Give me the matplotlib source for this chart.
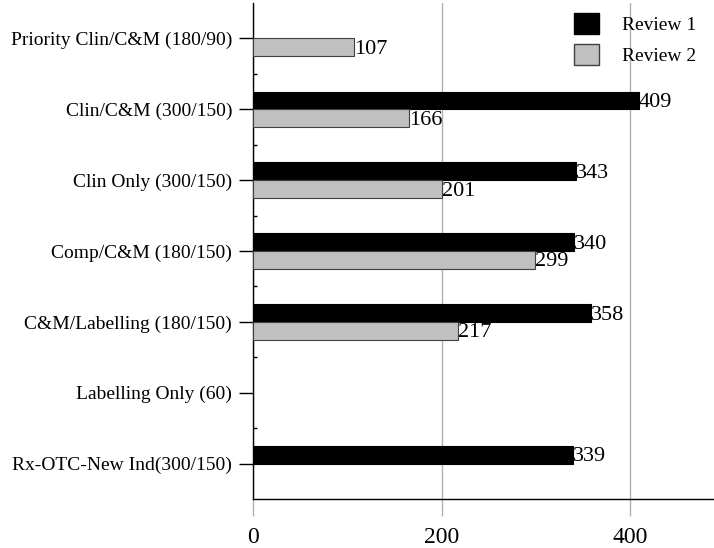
import numpy as np
import matplotlib.pyplot as plt
from matplotlib.patches import Patch

categories = [
    "Priority Clin/C&M (180/90)",
    "Clin/C&M (300/150)",
    "Clin Only (300/150)",
    "Comp/C&M (180/150)",
    "C&M/Labelling (180/150)",
    "Labelling Only (60)",
    "Rx-OTC-New Ind(300/150)",
]
review1 = [np.nan, 409, 343, 340, 358, np.nan, 339]
review2 = [107, 166, 201, 299, 217, np.nan, np.nan]
x_ticks = [0, 200, 400]

plt.rcParams["font.family"] = ["Liberation Serif", "DejaVu Serif"]

fig = plt.figure(figsize=(7.14, 5.48), dpi=100)
ax = fig.add_axes([253 / 714, 49 / 548, 461 / 714, 496 / 548])

y = np.arange(len(categories))
h = 0.25
for i, (v1, v2) in enumerate(zip(review1, review2)):
    if not np.isnan(v1):
        ax.barh(i - h / 2, v1, height=h, color="black", edgecolor="black", linewidth=0.8, zorder=3)
        ax.text(v1, i - h / 2 + 0.03, f"{v1:g}", ha="left", va="center", fontsize=16, zorder=4)
    if not np.isnan(v2):
        ax.barh(i + h / 2, v2, height=h, color="#c0c0c0", edgecolor="#404040", linewidth=0.8, zorder=3)
        ax.text(v2, i + h / 2 + 0.03, f"{v2:g}", ha="left", va="center", fontsize=16, zorder=4)

ax.set_ylim(len(categories) - 0.5, -0.5)
ax.set_xlim(0, 489)
ax.set_yticks(y)
ax.set_yticklabels(categories, fontsize=14)
ax.set_yticks(np.arange(len(categories) - 1) + 0.5, minor=True)
ax.tick_params(axis="y", which="major", direction="out", length=10, width=1, pad=5)
ax.tick_params(axis="y", which="minor", direction="in", length=3, width=1)

ax.set_xticks(x_ticks)
ax.set_xticklabels([str(t) for t in x_ticks], fontsize=17)
ax.tick_params(axis="x", direction="out", length=12, width=1, color="#b0b0b0", pad=8)
ax.grid(axis="x", color="#b0b0b0", linewidth=1, zorder=0)

for side in ("top", "right"):
    ax.spines[side].set_visible(False)
ax.spines["left"].set_linewidth(1)
ax.spines["bottom"].set_linewidth(1)

handles = [
    Patch(facecolor="black", edgecolor="black", label="Review 1"),
    Patch(facecolor="#c0c0c0", edgecolor="#404040", label="Review 2"),
]
ax.legend(handles=handles, loc="upper right", bbox_to_anchor=(1.0, 1.015), frameon=False,
          fontsize=14, handlelength=1.3, handleheight=1.3, handletextpad=1.2, labelspacing=0.5)

fig.savefig("out.png", dpi=100)
